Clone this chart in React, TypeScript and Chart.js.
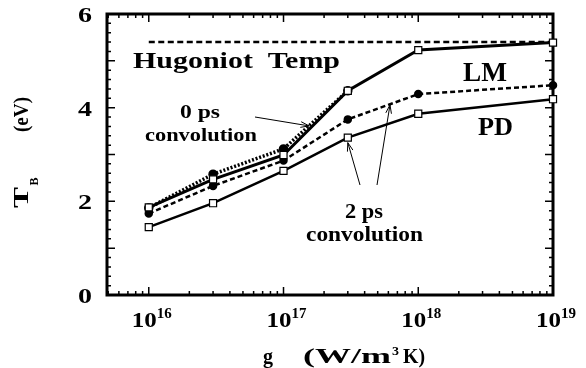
import React, { useEffect, useRef } from 'react';
import { Chart, registerables } from 'chart.js';

Chart.register(...registerables);

// Electron-phonon coupling constant g (W/m^3 K)
const gValues = [1e16, 3e16, 1e17, 3e17, 1e18, 1e19];
const hugoniotG = [1e16, 1e19];

// Brightness temperature T_B (eV)
const hugoniotTemp = [5.4, 5.4];
const lmTemp = [1.87, 2.47, 2.99, 4.36, 5.23, 5.39];
const lm0psTemp = [1.86, 2.58, 3.12, 4.36];
const conv2psTemp = [1.74, 2.33, 2.87, 3.75, 4.29, 4.48];
const pdTemp = [1.45, 1.96, 2.65, 3.36, 3.87, 4.18];

// Axis ticks
const xDecades = [16, 17, 18, 19];
const yTickLabels = [0, 2, 4, 6];

const FONT = '"Liberation Serif", "Times New Roman", Times, serif';

const pts = (xs: number[], ys: number[]) => ys.map((y, i) => ({ x: xs[i], y }));

function drawFit(ctx: CanvasRenderingContext2D, text: string, left: number, baseline: number, size: number, width?: number) {
  ctx.save();
  ctx.font = `bold ${size}px ${FONT}`;
  ctx.textAlign = 'left';
  ctx.textBaseline = 'alphabetic';
  ctx.fillStyle = '#000';
  const w = ctx.measureText(text).width;
  const sx = width ? width / w : 1;
  ctx.translate(left, baseline);
  ctx.scale(sx, 1);
  ctx.fillText(text, 0, 0);
  ctx.restore();
}

function drawRot(ctx: CanvasRenderingContext2D, text: string, cy: number, baseX: number, size: number, length?: number) {
  ctx.save();
  ctx.font = `bold ${size}px ${FONT}`;
  ctx.textAlign = 'center';
  ctx.textBaseline = 'alphabetic';
  ctx.fillStyle = '#000';
  const w = ctx.measureText(text).width;
  const sx = length ? length / w : 1;
  ctx.translate(baseX, cy);
  ctx.rotate(-Math.PI / 2);
  ctx.scale(sx, 1);
  ctx.fillText(text, 0, 0);
  ctx.restore();
}

function arrow(ctx: CanvasRenderingContext2D, x0: number, y0: number, x1: number, y1: number) {
  const a = Math.atan2(y1 - y0, x1 - x0);
  const h = 9;
  const s = 0.32;
  ctx.save();
  ctx.strokeStyle = '#000';
  ctx.lineWidth = 1;
  ctx.beginPath();
  ctx.moveTo(x0, y0);
  ctx.lineTo(x1, y1);
  ctx.moveTo(x1 - h * Math.cos(a - s), y1 - h * Math.sin(a - s));
  ctx.lineTo(x1, y1);
  ctx.lineTo(x1 - h * Math.cos(a + s), y1 - h * Math.sin(a + s));
  ctx.stroke();
  ctx.restore();
}

const framePlugin = {
  id: 'frameTicks',
  beforeDatasetsDraw(chart: any) {
    const { ctx, chartArea: ca, scales } = chart;
    const xs = scales.x;
    const ys = scales.y;
    ctx.save();
    ctx.strokeStyle = '#000';
    ctx.lineWidth = 1.5;
    ctx.beginPath();
    // log-axis ticks, inward on bottom and top
    for (let n = 15; n <= 18; n++) {
      for (let k = 1; k <= 9; k++) {
        const v = k * Math.pow(10, n);
        if (v < xs.min || v > xs.max) continue;
        const px = xs.getPixelForValue(v);
        const len = k === 1 ? 8 : 4;
        ctx.moveTo(px, ca.bottom);
        ctx.lineTo(px, ca.bottom - len);
        ctx.moveTo(px, ca.top);
        ctx.lineTo(px, ca.top + len);
      }
    }
    // linear-axis ticks, inward on left and right
    for (let i = 0; i <= 30; i++) {
      const v = i * 0.2;
      const py = ys.getPixelForValue(v);
      const len = i % 5 === 0 ? 8 : 4;
      ctx.moveTo(ca.left, py);
      ctx.lineTo(ca.left + len, py);
      ctx.moveTo(ca.right, py);
      ctx.lineTo(ca.right - len, py);
    }
    ctx.stroke();
    ctx.lineWidth = 3;
    ctx.strokeRect(ca.left, ca.top, ca.right - ca.left, ca.bottom - ca.top);
    ctx.restore();
  },
  afterDraw(chart: any) {
    const { ctx, scales } = chart;
    const xs = scales.x;
    const ys = scales.y;

    // tick labels
    for (const d of xDecades) {
      const px = xs.getPixelForValue(Math.pow(10, d));
      drawFit(ctx, '10', px - 17, 327, 22, 25);
      drawFit(ctx, String(d), px + 8, 318, 14, 15);
    }
    for (const v of yTickLabels) {
      const py = ys.getPixelForValue(v);
      drawFit(ctx, String(v), 78, py + 8, 22, 14);
    }

    // axis titles
    drawFit(ctx, 'g', 263, 363, 21, 10);
    drawFit(ctx, '(W/m', 303, 363, 21, 88);
    drawFit(ctx, '3', 392, 355, 13, 7);
    drawFit(ctx, 'K)', 403, 363, 21, 22);
    drawRot(ctx, 'T', 197.5, 28, 20, 21);
    drawRot(ctx, 'B', 181.5, 38, 12, 8);
    drawRot(ctx, '(eV)', 114.5, 28, 20, 35);

    // curve labels
    drawFit(ctx, 'Hugoniot  Temp', 133, 68, 23, 207);
    drawFit(ctx, 'LM', 463, 81, 27, 44);
    drawFit(ctx, 'PD', 478, 135, 25, 35);
    drawFit(ctx, '0 ps', 180, 118, 19, 40);
    drawFit(ctx, 'convolution', 145, 140.5, 19, 112);
    drawFit(ctx, '2 ps', 345, 218, 21, 38);
    drawFit(ctx, 'convolution', 306, 240.5, 21, 117);

    // pointers to curves
    arrow(ctx, 255, 117, xs.getPixelForValue(1.55e17), ys.getPixelForValue(3.61));
    arrow(ctx, 360, 185, xs.getPixelForValue(gValues[3]), ys.getPixelForValue(pdTemp[3]) + 5);
    arrow(ctx, 377, 185, xs.getPixelForValue(6.17e17), ys.getPixelForValue(4.06));
  },
};

export default function App() {
  const ref = useRef<HTMLCanvasElement | null>(null);

  useEffect(() => {
    if (!ref.current) return;
    const squarePoints = {
      pointStyle: 'rect',
      pointRadius: 5,
      pointBackgroundColor: '#fff',
      pointBorderColor: '#000',
      pointBorderWidth: 1.2,
    };
    const chart = new Chart(ref.current, {
      type: 'line',
      data: {
        datasets: [
          {
            label: 'Hugoniot Temp',
            data: pts(hugoniotG, hugoniotTemp),
            borderColor: '#000',
            borderWidth: 2.5,
            borderDash: [6, 3.5],
            pointRadius: 0,
            order: 5,
          },
          {
            label: 'LM',
            data: pts(gValues, lmTemp),
            borderColor: '#000',
            borderWidth: 3,
            ...squarePoints,
            order: 1,
          },
          {
            label: 'LM 0 ps convolution',
            data: pts(gValues, lm0psTemp),
            borderColor: '#000',
            borderWidth: 3.5,
            borderDash: [2, 1.8],
            pointRadius: 3,
            pointBackgroundColor: '#000',
            pointBorderColor: '#000',
            order: 4,
          },
          {
            label: 'LM 2 ps convolution',
            data: pts(gValues, conv2psTemp),
            borderColor: '#000',
            borderWidth: 2.5,
            borderDash: [5, 3],
            pointRadius: 3,
            pointBackgroundColor: '#000',
            pointBorderColor: '#000',
            order: 3,
          },
          {
            label: 'PD',
            data: pts(gValues, pdTemp),
            borderColor: '#000',
            borderWidth: 2.5,
            ...squarePoints,
            order: 2,
          },
        ] as any,
      },
      options: {
        animation: false,
        responsive: false,
        clip: false as any,
        layout: { padding: { left: 107, right: 33, top: 14, bottom: 73 } },
        plugins: { legend: { display: false }, tooltip: { enabled: false } },
        elements: { line: { tension: 0 } },
        scales: {
          x: { type: 'logarithmic', min: Math.pow(10, 15.69), max: 1e19, display: false },
          y: { type: 'linear', min: 0, max: 6, display: false },
        },
      },
      plugins: [framePlugin],
    });
    // repaint once the serif face is ready for canvas text
    let alive = true;
    const fonts = (document as any).fonts;
    if (fonts && fonts.load) {
      Promise.all([
        fonts.load(`bold 20px "Liberation Serif"`),
        fonts.load(`bold 12px "Liberation Serif"`),
      ]).then(() => {
        if (alive) chart.draw();
      });
    }
    return () => {
      alive = false;
      chart.destroy();
    };
  }, []);

  return (
    <div style={{ position: 'absolute', left: 0, top: 0, width: 586, height: 368, background: '#fff' }}>
      <span style={{ fontFamily: '"Liberation Serif"', fontWeight: 'bold', position: 'absolute', left: -999, top: 0 }}>Tg</span>
      <canvas ref={ref} width={586} height={368} />
    </div>
  );
}
